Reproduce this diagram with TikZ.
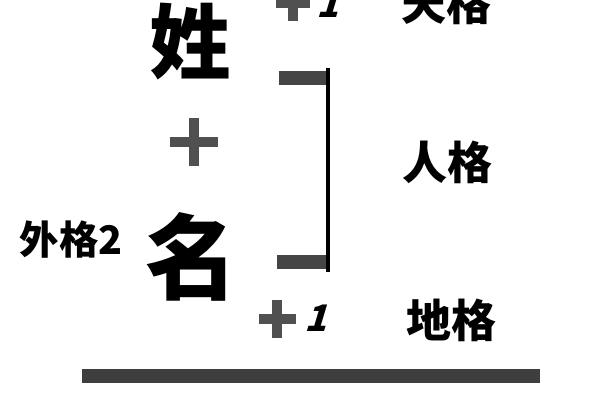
\documentclass[tikz,border=0pt]{standalone}
\usepackage{fontspec}
\newfontfamily\cjk{Noto Sans CJK SC}
\newfontfamily\cjkslant{Noto Sans CJK SC}[FakeSlant=0.3]
\usetikzlibrary{positioning}
\definecolor{bargray}{HTML}{454545}
\definecolor{plusgray}{HTML}{505050}

\begin{document}
\begin{tikzpicture}[x=0.025cm, y=-0.025cm,
  bigchar/.style={inner sep=0pt, font=\cjk\bfseries\fontsize{58}{58}\selectfont},
  gelabel/.style={inner sep=0pt, font=\cjk\bfseries\fontsize{32}{32}\selectfont},
  onelabel/.style={inner sep=0pt, font=\cjkslant\bfseries\fontsize{26}{26}\selectfont},
  plusbar/.style={draw=plusgray, line width=7.8pt},
  bar/.style={draw=bargray, line width=10.5pt}
]
\clip (0,0) rectangle (600,400);

% Name characters
\node[bigchar] (xing) at (190,42) {姓};
\node[bigchar, font=\cjk\bfseries\fontsize{66}{66}\selectfont] (ming) at (192,257) {名};

% Labels
\node[gelabel] (tiange) at (446,3) {天格};
\node[gelabel] (renge) at (447,162) {人格};
\node[gelabel] (dige) at (451,320) {地格};
\node[gelabel, font=\cjk\bfseries\fontsize{28}{28}\selectfont] (waige) at (71,240) {外格2};

% Ones
\node[onelabel] (onetop) at (328,4) {1};
\node[onelabel] (onebottom) at (316,318) {1};

% Plus signs
\draw[plusbar] (276,3) -- (310,3) (293,-15) -- (293,21);
\draw[plusbar] (170,142) -- (218,142) (194,118) -- (194,166);
\draw[plusbar] (259,319) -- (296,319) (277,300) -- (277,338);

% Bracket
\coordinate (brtop) at (328,78);
\coordinate (brbottom) at (328,262);
\draw[bar] (brtop) -- ++(-49,0);
\draw[bar] (brbottom) -- ++(-51,0);
\draw[black, line width=3.5pt] ([yshift=7]brtop) -- ([yshift=-7]brbottom);

% Bottom line
\coordinate (lineleft) at (82,376);
\coordinate (lineright) at (540,376);
\draw[bar, draw=bargray!90!black] (lineleft) -- (lineright);

\end{tikzpicture}
\end{document}
